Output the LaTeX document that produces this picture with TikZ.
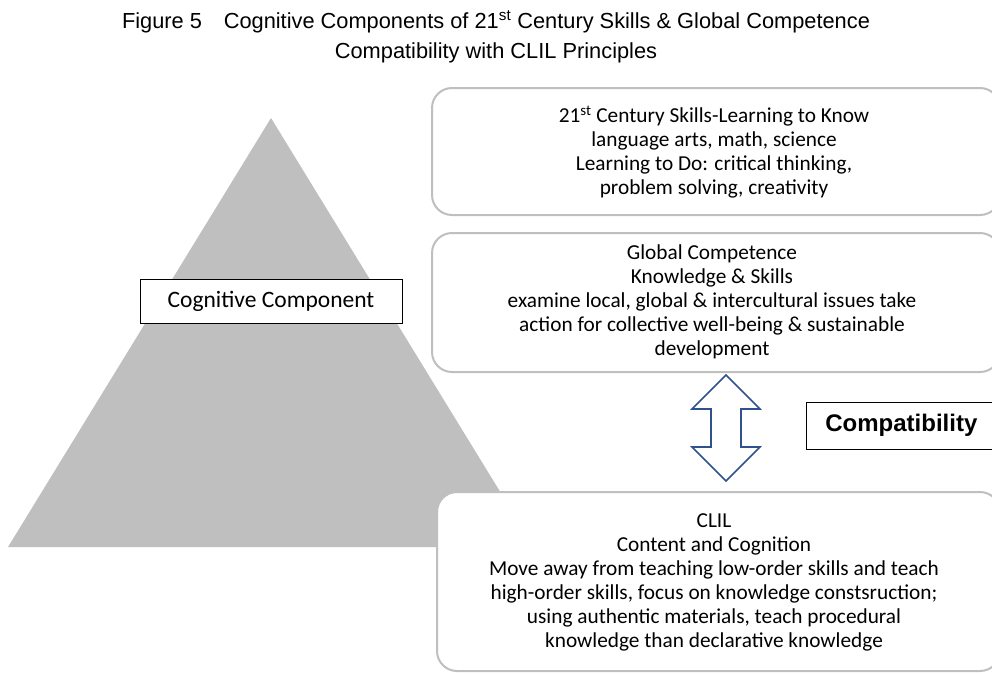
\documentclass[tikz,border=0pt]{standalone}
\usepackage{fontspec}
\setmainfont{Carlito}
\newfontfamily\arialfont{Liberation Sans}
\definecolor{trigrey}{HTML}{BFBFBF}
\definecolor{boxgrey}{HTML}{BFBFBF}
\definecolor{arrowblue}{HTML}{2F528F}
\begin{document}
\begin{tikzpicture}[x=1pt,y=-1pt,
  roundbox/.style={draw=boxgrey,line width=2pt,fill=white,rounded corners=20pt},
  boxtext/.style={align=center,font=\fontsize{21.3}{24}\selectfont,inner sep=0pt},
  plainbox/.style={draw=black,line width=0.8pt,fill=white,inner sep=0pt}]
\useasboundingbox (0,0) rectangle (992,673);
% title
\node[font=\arialfont\fontsize{21.8}{30}\selectfont,align=center,inner sep=0pt] (title) at (496,37)
  {Figure 5\quad Cognitive Components of 21\textsuperscript{st} Century Skills \& Global Competence\\Compatibility with CLIL Principles};
% pyramid
\fill[trigrey] (271,118) -- (534,547) -- (8,547) -- cycle;
% boxes
\draw[roundbox] (432,88) rectangle (1000,215);
\draw[roundbox] (432,233) rectangle (1000,372);
\draw[roundbox] (437,492) rectangle (1000,671);
\node[boxtext] (b1) at (714,152) {21\textsuperscript{st} Century Skills-Learning to Know\\language arts, math, science\\Learning to Do: critical thinking,\\problem solving, creativity};
\node[boxtext] (b2) at (712,302) {Global Competence\\Knowledge \& Skills\\examine local, global \& intercultural issues take\\action for collective well-being \& sustainable\\development};
\node[boxtext] (b3) at (714,582) {CLIL\\Content and Cognition\\Move away from teaching low-order skills and teach\\high-order skills, focus on knowledge constsruction;\\using authentic materials, teach procedural\\knowledge than declarative knowledge};
% cognitive component label
\node[plainbox,minimum width=262pt,minimum height=44pt,font=\fontsize{23.5}{26}\selectfont] (cog) at (271,301) {Cognitive Component};
% double arrow
\draw[arrowblue,line width=1.6pt,fill=white,line join=miter]
  (726,375) -- (760,409) -- (741,409) -- (741,447) -- (760,447) -- (726,481)
  -- (692,447) -- (711,447) -- (711,409) -- (692,409) -- cycle;
% compatibility label
\node[plainbox,minimum width=190pt,minimum height=47pt,anchor=west,font=\arialfont\bfseries\fontsize{24}{26}\selectfont] (compat) at (806,425.5) {Compatibility};
\end{tikzpicture}
\end{document}
